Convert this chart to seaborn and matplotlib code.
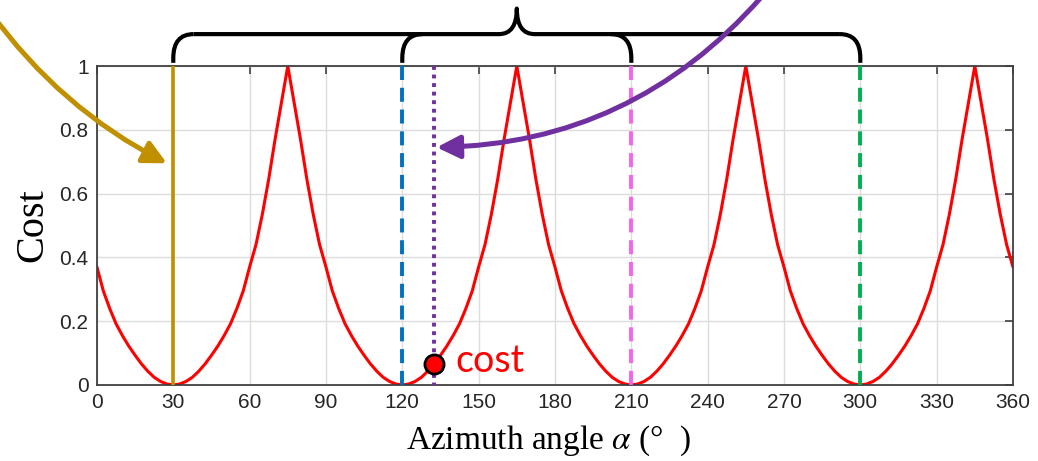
import numpy as np
import pandas as pd
import matplotlib
matplotlib.use("Agg")
import matplotlib.pyplot as plt
import seaborn as sns
from matplotlib.patches import FancyArrowPatch, PathPatch
from matplotlib.path import Path

# ---------------- data ----------------
azimuth = [i * 2.5 for i in range(145)]   # 0 .. 360 deg, 2.5 deg apart
cost = [
    # 0 - 27.5
    0.37, 0.295, 0.24, 0.192, 0.155, 0.122, 0.093, 0.066, 0.043, 0.024, 0.011, 0.003,
    # 30 - 72.5
    0.0, 0.003, 0.011, 0.024, 0.043, 0.066, 0.093, 0.122, 0.155, 0.192, 0.24, 0.295,
    0.37, 0.44, 0.535, 0.645, 0.77, 0.885,
    # 75 - 117.5
    1.0, 0.885, 0.77, 0.645, 0.535, 0.44, 0.37, 0.295, 0.24, 0.192, 0.155, 0.122,
    0.093, 0.066, 0.043, 0.024, 0.011, 0.003,
    # 120 - 162.5
    0.0, 0.003, 0.011, 0.024, 0.043, 0.066, 0.093, 0.122, 0.155, 0.192, 0.24, 0.295,
    0.37, 0.44, 0.535, 0.645, 0.77, 0.885,
    # 165 - 207.5
    1.0, 0.885, 0.77, 0.645, 0.535, 0.44, 0.37, 0.295, 0.24, 0.192, 0.155, 0.122,
    0.093, 0.066, 0.043, 0.024, 0.011, 0.003,
    # 210 - 252.5
    0.0, 0.003, 0.011, 0.024, 0.043, 0.066, 0.093, 0.122, 0.155, 0.192, 0.24, 0.295,
    0.37, 0.44, 0.535, 0.645, 0.77, 0.885,
    # 255 - 297.5
    1.0, 0.885, 0.77, 0.645, 0.535, 0.44, 0.37, 0.295, 0.24, 0.192, 0.155, 0.122,
    0.093, 0.066, 0.043, 0.024, 0.011, 0.003,
    # 300 - 342.5
    0.0, 0.003, 0.011, 0.024, 0.043, 0.066, 0.093, 0.122, 0.155, 0.192, 0.24, 0.295,
    0.37, 0.44, 0.535, 0.645, 0.77, 0.885,
    # 345 - 360
    1.0, 0.885, 0.77, 0.645, 0.535, 0.44, 0.37,
]

candidate_angles = [30, 120, 210, 300]
candidate_colors = ["#C09000", "#0072BD", "#F564EC", "#00B050"]
candidate_styles = ["solid", "dashed", "dashed", "dashed"]
current_angle = 132.5
current_cost = 0.066
point_label = "cost"

x_ticks = list(range(0, 361, 30))
y_ticks = [0, 0.2, 0.4, 0.6, 0.8, 1]
y_tick_labels = ["0", "0.2", "0.4", "0.6", "0.8", "1"]
x_label_text = r"Azimuth angle $\alpha$ (°  )"
y_label_text = "Cost"

df = pd.DataFrame({"azimuth": azimuth, "cost": cost})

# ---------------- style ----------------
sns.set_theme(style="white")
plt.rcParams["font.family"] = ["Liberation Sans", "DejaVu Sans"]
plt.rcParams["mathtext.fontset"] = "stix"

fig = plt.figure(figsize=(10.38, 4.61), dpi=100)
ax = fig.add_axes([0.0934, 0.1649, 0.8825, 0.6919])

ax.set_xlim(0, 360)
ax.set_ylim(0, 1)
ax.set_xticks(x_ticks)
ax.set_yticks(y_ticks)
ax.set_yticklabels(y_tick_labels)
ax.grid(True, color="#DCDCDC", lw=1.0)
ax.set_axisbelow(True)
for s in ax.spines.values():
    s.set_color("#404040")
    s.set_linewidth(1.3)
ax.tick_params(axis="both", direction="in", length=6, width=1.2, color="#404040",
               top=True, right=True, labelsize=15, labelcolor="#262626", pad=6)

# red cost curve
sns.lineplot(data=df, x="azimuth", y="cost", color="#FF0000", lw=2.2, ax=ax,
             estimator=None, sort=False)

# candidate vertical lines
for a, c, st in zip(candidate_angles, candidate_colors, candidate_styles):
    if st == "solid":
        ax.plot([a, a], [1, 0], color=c, lw=2.6, solid_capstyle="butt", zorder=3)
    else:
        ax.plot([a, a], [1, 0], color=c, lw=2.8, ls=(0, (3.6, 2.0)),
                dash_capstyle="butt", zorder=3)
# current angle (dotted)
ax.plot([current_angle, current_angle], [1, 0], color="#7030A0", lw=2.8,
        ls=(0, (1, 1.2)), dash_capstyle="butt", zorder=3)

# current point
ax.scatter([current_angle], [current_cost], s=190, color="#FF0000",
           edgecolor="black", linewidth=2, zorder=6)
ax.text(current_angle + 8.5, current_cost + 0.01, point_label, color="#FF0000",
        fontsize=27, family=["Lato", "DejaVu Sans"], va="center", ha="left", zorder=6)

ax.set_xlabel(x_label_text, fontsize=24, family=["Liberation Serif", "DejaVu Serif"],
              color="black")
ax.xaxis.set_label_coords(0.493, -0.12)
ax.xaxis.label.set_va("top")
ax.set_ylabel(y_label_text, fontsize=29, family=["Liberation Serif", "DejaVu Serif"],
              color="black")
ax.yaxis.set_label_coords(-0.05, 0.5)

# ---------------- brace above the plot ----------------
yh = 1.10   # horizontal bar
yb = 1.01   # leg bottom
rx = 8.0
ry = 0.075
brace_kw = dict(fill=False, lw=3.0, edgecolor="black", clip_on=False,
                transform=ax.transData, zorder=7, capstyle="butt", joinstyle="round")

def leg(x0, direction):
    verts = [(x0, yb), (x0, yh - ry), (x0, yh), (x0 + direction * rx, yh)]
    codes = [Path.MOVETO, Path.LINETO, Path.CURVE3, Path.CURVE3]
    ax.add_patch(PathPatch(Path(verts, codes), **brace_kw))

leg(candidate_angles[0], +1)
leg(candidate_angles[1], +1)
leg(candidate_angles[2], -1)
leg(candidate_angles[3], -1)

# horizontal bar with central tip
xm = 165
tip = 1.18
verts = [(candidate_angles[0] + rx, yh), (xm - 7, yh),
         (xm, yh), (xm, tip),
         (xm, yh), (xm + 7, yh),
         (candidate_angles[3] - rx, yh)]
codes = [Path.MOVETO, Path.LINETO, Path.CURVE3, Path.CURVE3,
         Path.CURVE3, Path.CURVE3, Path.LINETO]
ax.add_patch(PathPatch(Path(verts, codes), **brace_kw))

# ---------------- arrows ----------------
gold = FancyArrowPatch(posA=(-42, 1.17), posB=(27.5, 0.695),
                       connectionstyle="arc3,rad=0.12",
                       arrowstyle="-|>,head_length=1.0,head_width=0.5",
                       mutation_scale=14, lw=3.6, color="#C09000",
                       shrinkA=0, shrinkB=0, clip_on=False, zorder=8,
                       transform=ax.transData)
ax.add_patch(gold)
purple = FancyArrowPatch(posA=(261, 1.215), posB=(133.5, 0.745),
                         connectionstyle="arc3,rad=-0.22",
                         arrowstyle="-|>,head_length=1.0,head_width=0.5",
                         mutation_scale=14, lw=3.6, color="#7030A0",
                         shrinkA=0, shrinkB=0, clip_on=False, zorder=8,
                         transform=ax.transData)
ax.add_patch(purple)

fig.savefig("out.png", dpi=100)
